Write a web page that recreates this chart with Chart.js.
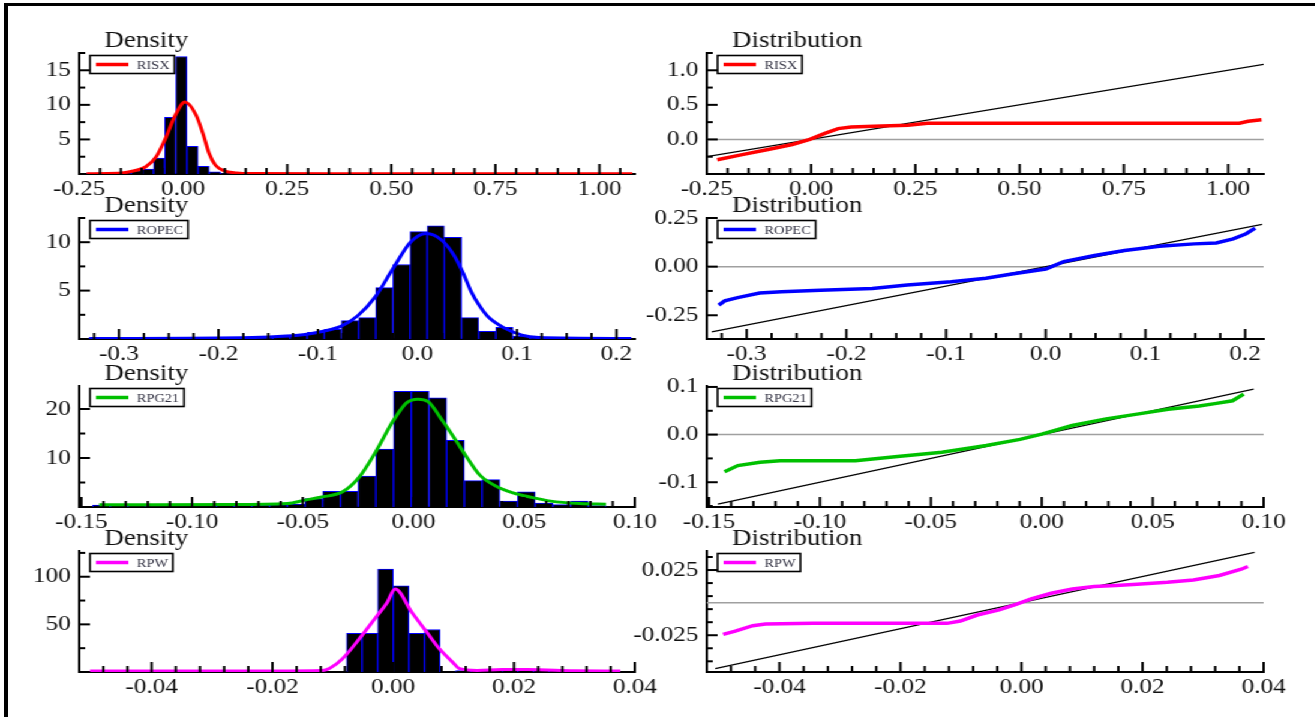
<!DOCTYPE html>
<html>
<head>
<meta charset="utf-8">
<script src="https://cdn.jsdelivr.net/npm/chart.js@4.4.1/dist/chart.umd.min.js"></script>
<style>
html, body { margin: 0; padding: 0; background: #fff; overflow: hidden; }
#page { position: relative; width: 1315px; height: 717px; overflow: hidden; background: #fff; }
#frame { position: absolute; left: 4px; top: 3px; width: 1320px; height: 720px; border-left: 4px solid #000; border-top: 3px solid #000; }
#wrap { position: absolute; left: 0; top: 0; width: 1096px; height: 717px; transform: scaleX(1.2); transform-origin: 0 0; }
canvas { position: absolute; }
</style>
</head>
<body>
<div id="page">
  <div id="frame"></div>
  <div id="wrap">
    <canvas id="risxDens"></canvas>
    <canvas id="risxDist"></canvas>
    <canvas id="ropecDens"></canvas>
    <canvas id="ropecDist"></canvas>
    <canvas id="rpgDens"></canvas>
    <canvas id="rpgDist"></canvas>
    <canvas id="rpwDens"></canvas>
    <canvas id="rpwDist"></canvas>
  </div>
</div>
<script>
// ================= DADOS: RISX =================
const risxHistStart = -0.232, risxHistWidth = 0.02676;
const risxHist = [0.15, 0.15, 0.15, 0.15, 0.5, 0.7, 2.3, 8.2, 17.0, 4.0, 1.1, 0.3,
  0.12, 0.12, 0.12, 0.12, 0.12, 0.12, 0.12, 0.12, 0.12, 0.12,
  0, 0, 0, 0, 0, 0, 0, 0, 0, 0, 0, 0, 0, 0, 0, 0, 0, 0, 0, 0, 0, 0, 0,
  0.12, 0.12, 0.12, 0];
const risxDensX = [-0.232, -0.156, -0.136, -0.115, -0.09, -0.065, -0.0445, -0.019, 0.004, 0.031, 0.047, 0.062, 0.077, 0.097, 0.128, 0.168, 0.5, 1.079];
const risxDensY = [0.05, 0.1, 0.25, 0.5, 1.05, 2.5, 4.9, 8.5, 10.4, 8.5, 5.9, 3.0, 1.3, 0.5, 0.15, 0.06, 0.05, 0.05];
const risxQQX = [-0.225, -0.165, -0.103, -0.045, -0.003, 0.033, 0.065, 0.096, 0.169, 0.232, 0.279, 1.027, 1.048, 1.080];
const risxQQY = [-0.293, -0.22, -0.146, -0.073, 0.0, 0.088, 0.156, 0.18, 0.195, 0.205, 0.234, 0.234, 0.263, 0.283];
const risxRefX = [-0.25, 1.085];
const risxRefY = [-0.25, 1.085];
const risxXRange = [-0.25, 1.085];
const risxDensYRange = [0, 17.5];
const risxDistYRange = [-0.5, 1.25];
const risxXLabels = [-0.25, 0, 0.25, 0.5, 0.75, 1.0];
const risxDensYLabels = [5, 10, 15];
const risxDistYLabels = [0, 0.5, 1.0];

// ================= DADOS: ROPEC =================
const ropecHistStart = -0.335, ropecHistWidth = 0.01724;
const ropecHist = [0, 0, 0, 0, 0, 0, 0, 0, 0, 0,
  0.2, 0.25, 0.4, 0.7, 1.0, 1.9, 2.2, 5.3, 7.7, 11.1, 11.7, 10.5, 2.2, 0.8, 1.2, 0.3, 0.1, 0, 0.15, 0.15, 0, 0];
const ropecDensX = [-0.33, -0.166, -0.132, -0.111, -0.09, -0.077, -0.06, -0.042, -0.025, -0.007, 0.009, 0.0245, 0.037, 0.0456, 0.054, 0.0626, 0.071, 0.088, 0.105, 0.122, 0.215];
const ropecDensY = [0.05, 0.15, 0.3, 0.5, 0.9, 1.3, 2.4, 4.4, 7.2, 10.0, 10.9, 10.2, 8.6, 6.9, 4.9, 3.4, 2.3, 1.1, 0.4, 0.15, 0.05];
const ropecQQX = [-0.328, -0.322, -0.309, -0.287, -0.265, -0.226, -0.174, -0.139, -0.095, -0.06, -0.034, 0.0, 0.018, 0.049, 0.079, 0.114, 0.149, 0.171, 0.188, 0.201, 0.21];
const ropecQQY = [-0.198, -0.176, -0.159, -0.136, -0.129, -0.121, -0.112, -0.095, -0.078, -0.060, -0.038, -0.012, 0.026, 0.057, 0.083, 0.105, 0.117, 0.122, 0.143, 0.169, 0.198];
const ropecRefX = [-0.335, 0.217];
const ropecRefY = [-0.335, 0.217];
const ropecXRange = [-0.34, 0.2185];
const ropecDensYRange = [0, 12.5];
const ropecDistYRange = [-0.372, 0.25];
const ropecXLabels = [-0.3, -0.2, -0.1, 0, 0.1, 0.2];
const ropecDensYLabels = [5, 10];
const ropecDistYLabels = [-0.25, 0, 0.25];

// ================= DADOS: RPG21 =================
const rpgHistStart = -0.145, rpgHistWidth = 0.008;
const rpgHist = [0.4, 0.4, 0.4, 0, 0, 0, 0,
  0.3, 0.35, 0.35, 0.5, 0.6, 1.7, 3.2, 3.2, 6.3, 11.8, 23.6, 23.6, 22.3, 13.6, 5.4, 5.6, 1.2, 3.1, 0.8, 0.5, 1.2, 0.3];
const rpgDensX = [-0.142, -0.119, -0.083, -0.057, -0.049, -0.042, -0.032, -0.0245, -0.017, -0.009, -0.003, 0.002, 0.0066, 0.013, 0.019, 0.0245, 0.030, 0.038, 0.045, 0.053, 0.062, 0.075, 0.087];
const rpgDensY = [0.48, 0.48, 0.5, 0.7, 1.4, 2.0, 3.1, 6.1, 11.3, 17.7, 21.3, 22.0, 21.5, 17.7, 13.7, 9.9, 6.5, 4.1, 2.9, 2.0, 1.2, 0.7, 0.55];
const rpgQQX = [-0.143, -0.137, -0.127, -0.118, -0.084, -0.065, -0.045, -0.025, -0.0098, 0.0, 0.0137, 0.029, 0.043, 0.057, 0.071, 0.078, 0.086, 0.091];
const rpgQQY = [-0.078, -0.065, -0.058, -0.055, -0.055, -0.046, -0.037, -0.023, -0.010, 0.001, 0.019, 0.033, 0.043, 0.053, 0.060, 0.065, 0.071, 0.085];
const rpgRefX = [-0.146, 0.0955];
const rpgRefY = [-0.146, 0.0955];
const rpgXRange = [-0.151, 0.1];
const rpgDensYRange = [0, 24.7];
const rpgDistYRange = [-0.152, 0.102];
const rpgXLabels = [-0.15, -0.1, -0.05, 0, 0.05, 0.1];
const rpgDensYLabels = [10, 20];
const rpgDistYLabels = [-0.1, 0, 0.1];

// ================= DADOS: RPW =================
const rpwHistStart = -0.0516, rpwHistWidth = 0.00258;
const rpwHist = [0, 0, 0, 0, 0, 0, 0, 0, 0, 0, 0, 0, 0, 0, 0, 0, 0,
  40.7, 40.7, 108, 90.5, 40.7, 44.6, 0, 1.5, 0, 0, 2.8, 2.8, 1.2, 1.2, 0.8, 0, 0, 0];
const rpwDensX = [-0.0502, -0.02, -0.0118, -0.0105, -0.0084, -0.0056, -0.0028, -0.001, 0.0003, 0.0031, 0.0056, 0.0077, 0.0098, 0.011, 0.0139, 0.018, 0.0223, 0.030, 0.0376];
const rpwDensY = [1, 1, 1.5, 4, 14, 35, 58, 73, 87, 62.5, 41.4, 23.9, 10.5, 3.5, 1.7, 2.5, 2.5, 1.4, 1];
const rpwQQX = [-0.0493, -0.0473, -0.0444, -0.0423, -0.0344, -0.0201, -0.0123, -0.0101, -0.0073, -0.0037, -0.0009, 0.0016, 0.0049, 0.0084, 0.012, 0.0156, 0.0191, 0.0241, 0.0284, 0.0327, 0.0363, 0.0374];
const rpwQQY = [-0.0244, -0.0218, -0.0177, -0.0164, -0.0159, -0.0159, -0.0159, -0.0141, -0.0095, -0.0056, -0.0013, 0.0028, 0.0072, 0.0105, 0.0123, 0.0131, 0.0141, 0.0156, 0.0174, 0.0208, 0.0256, 0.0277];
const rpwRefX = [-0.0506, 0.0385];
const rpwRefY = [-0.0506, 0.0385];
const rpwXRange = [-0.052, 0.04];
const rpwDensYRange = [0, 127];
const rpwDistYRange = [-0.0532, 0.0396];
const rpwXLabels = [-0.04, -0.02, 0, 0.02, 0.04];
const rpwDensYLabels = [50, 100];
const rpwDistYLabels = [-0.025, 0.025];

// ================= LAYOUT =================
const Y_W = 62, X_H = 34, PAD_T = 32, PAD_R = 32, AREA_H = 121;
const COL_LEFT = [65.83, 589.0];
const COL_W = [463, 464];
const ROW_TOP = [52.5, 218, 385.5, 551];
const FONT = '"Liberation Serif", "Times New Roman", serif';

// ================= UTILITARIOS =================
function points(xs, ys) {
    return xs.map((x, i) => ({ x: x, y: ys[i] }));
}

function histPoints(start, width, heights) {
    const pts = [];
    heights.forEach((h, i) => {
        if (h > 0) pts.push({ x: start + width * (i + 0.5), y: h });
    });
    return pts;
}

function tickValues(min, max, spec) {
    const base = spec.base || 0;
    const first = base + Math.ceil((min - base) / spec.step - 1e-9) * spec.step;
    const out = [];
    for (let i = 0; i < 500; i++) {
        const v = +(first + i * spec.step).toFixed(8);
        if (v > max + 1e-9) break;
        out.push(v);
    }
    return out;
}

function isMajor(v, spec) {
    return spec.labels.some(l => Math.abs(l - v) < 1e-7);
}

function axis(range, spec, isX) {
    return {
        type: 'linear',
        min: range[0],
        max: range[1],
        offset: false,
        grid: { display: false, drawTicks: false },
        border: { display: true, color: '#000', width: 2 },
        ticks: {
            autoSkip: false,
            maxRotation: 0,
            minRotation: 0,
            padding: isX ? 3 : 7,
            color: '#111',
            font: { family: FONT, size: 21 },
            callback: v => isMajor(v, spec) ? (+v).toFixed(spec.dec) : ''
        },
        afterBuildTicks: s => { s.ticks = tickValues(range[0], range[1], spec).map(v => ({ value: v })); },
        afterFit: s => { if (isX) s.height = X_H; else s.width = Y_W; }
    };
}

// titulo, ticks para dentro e caixa de legenda de cada painel
function panelPlugin(title, name, color, xSpec, ySpec) {
    return {
        id: 'panelDecor',
        afterDraw(chart) {
            const { ctx, chartArea: a } = chart;
            const sx = chart.scales.x, sy = chart.scales.y;
            ctx.save();

            // ticks
            ctx.strokeStyle = '#000';
            ctx.lineWidth = 2;
            tickValues(sx.min, sx.max, xSpec).forEach(v => {
                const px = sx.getPixelForValue(v);
                const len = isMajor(v, xSpec) ? 10 : 6;
                ctx.beginPath();
                ctx.moveTo(px, a.bottom);
                ctx.lineTo(px, a.bottom - len);
                ctx.stroke();
            });
            tickValues(sy.min, sy.max, ySpec).forEach(v => {
                const py = sy.getPixelForValue(v);
                const len = isMajor(v, ySpec) ? 9 : 5;
                ctx.beginPath();
                ctx.moveTo(a.left, py);
                ctx.lineTo(a.left + len, py);
                ctx.stroke();
            });

            // titulo
            ctx.fillStyle = '#111';
            ctx.font = '22.5px ' + FONT;
            ctx.textAlign = 'left';
            ctx.textBaseline = 'alphabetic';
            ctx.fillText(title, a.left + 21, a.top - 6);

            // legenda
            ctx.font = '12px ' + FONT;
            const tw = ctx.measureText(name).width;
            const bx = a.left + 9, by = a.top + 2.5, bw = 39 + tw + 4, bh = 18;
            ctx.fillStyle = '#fff';
            ctx.fillRect(bx, by, bw, bh);
            ctx.strokeStyle = '#000';
            ctx.lineWidth = 1.6;
            ctx.strokeRect(bx, by, bw, bh);
            ctx.strokeStyle = color;
            ctx.lineWidth = 3.5;
            ctx.beginPath();
            ctx.moveTo(bx + 5, by + bh / 2);
            ctx.lineTo(bx + 32, by + bh / 2);
            ctx.stroke();
            ctx.fillStyle = '#333344';
            ctx.textBaseline = 'middle';
            ctx.fillText(name, bx + 39, by + bh / 2 + 1);
            ctx.restore();
        }
    };
}

function makeChart(id, col, row, title, name, color, xRange, yRange, xSpec, ySpec, datasets) {
    const cv = document.getElementById(id);
    cv.width = Y_W + COL_W[col] + PAD_R;
    cv.height = PAD_T + AREA_H + X_H;
    cv.style.left = (COL_LEFT[col] - Y_W) + 'px';
    cv.style.top = (ROW_TOP[row] - PAD_T) + 'px';
    cv.style.width = cv.width + 'px';
    cv.style.height = cv.height + 'px';
    return new Chart(cv, {
        type: 'line',
        data: { datasets: datasets },
        options: {
            responsive: false,
            animation: false,
            devicePixelRatio: 1,
            events: [],
            layout: { padding: { left: 0, right: PAD_R, top: PAD_T, bottom: 0 } },
            plugins: { legend: { display: false }, tooltip: { enabled: false }, title: { display: false } },
            scales: {
                x: axis(xRange, xSpec, true),
                y: axis(yRange, ySpec, false)
            }
        },
        plugins: [panelPlugin(title, name, color, xSpec, ySpec)]
    });
}

function densitySets(color, hStart, hWidth, hist, dx, dy) {
    return [
        { type: 'line', data: points(dx, dy), borderColor: color, borderWidth: 3, pointRadius: 0,
          cubicInterpolationMode: 'monotone', fill: false, order: 0 },
        { type: 'bar', data: histPoints(hStart, hWidth, hist), backgroundColor: '#000', borderColor: '#0000ff',
          borderWidth: 1, barPercentage: 1, categoryPercentage: 1, order: 1 }
    ];
}

function distSets(color, qx, qy, rx, ry, xRange) {
    return [
        { type: 'line', data: points(qx, qy), borderColor: color, borderWidth: 3.5, pointRadius: 0, tension: 0, order: 0 },
        { type: 'line', data: points(rx, ry), borderColor: '#000', borderWidth: 1.2, pointRadius: 0, order: 1 },
        { type: 'line', data: points(xRange, [0, 0]), borderColor: '#a0a0a0', borderWidth: 1.5, pointRadius: 0, order: 2 }
    ];
}

// ================= GRAFICOS =================
const RED = '#ff0000', BLUE = '#0000ff', GREEN = '#00c000', MAGENTA = '#ff00ff';

makeChart('risxDens', 0, 0, 'Density', 'RISX', RED, risxXRange, risxDensYRange,
    { step: 0.05, labels: risxXLabels, dec: 2 }, { step: 2.5, labels: risxDensYLabels, dec: 0 },
    densitySets(RED, risxHistStart, risxHistWidth, risxHist, risxDensX, risxDensY));
makeChart('risxDist', 1, 0, 'Distribution', 'RISX', RED, risxXRange, risxDistYRange,
    { step: 0.05, labels: risxXLabels, dec: 2 }, { step: 0.25, labels: risxDistYLabels, dec: 1 },
    distSets(RED, risxQQX, risxQQY, risxRefX, risxRefY, risxXRange));

makeChart('ropecDens', 0, 1, 'Density', 'ROPEC', BLUE, ropecXRange, ropecDensYRange,
    { step: 0.025, labels: ropecXLabels, dec: 1 }, { step: 2.5, labels: ropecDensYLabels, dec: 0 },
    densitySets(BLUE, ropecHistStart, ropecHistWidth, ropecHist, ropecDensX, ropecDensY));
makeChart('ropecDist', 1, 1, 'Distribution', 'ROPEC', BLUE, ropecXRange, ropecDistYRange,
    { step: 0.025, labels: ropecXLabels, dec: 1 }, { step: 0.125, labels: ropecDistYLabels, dec: 2 },
    distSets(BLUE, ropecQQX, ropecQQY, ropecRefX, ropecRefY, ropecXRange));

makeChart('rpgDens', 0, 2, 'Density', 'RPG21', GREEN, rpgXRange, rpgDensYRange,
    { step: 0.01, labels: rpgXLabels, dec: 2 }, { step: 5, labels: rpgDensYLabels, dec: 0 },
    densitySets(GREEN, rpgHistStart, rpgHistWidth, rpgHist, rpgDensX, rpgDensY));
makeChart('rpgDist', 1, 2, 'Distribution', 'RPG21', GREEN, rpgXRange, rpgDistYRange,
    { step: 0.01, labels: rpgXLabels, dec: 2 }, { step: 0.05, labels: rpgDistYLabels, dec: 1 },
    distSets(GREEN, rpgQQX, rpgQQY, rpgRefX, rpgRefY, rpgXRange));

makeChart('rpwDens', 0, 3, 'Density', 'RPW', MAGENTA, rpwXRange, rpwDensYRange,
    { step: 0.004, labels: rpwXLabels, dec: 2 }, { step: 25, labels: rpwDensYLabels, dec: 0 },
    densitySets(MAGENTA, rpwHistStart, rpwHistWidth, rpwHist, rpwDensX, rpwDensY));
makeChart('rpwDist', 1, 3, 'Distribution', 'RPW', MAGENTA, rpwXRange, rpwDistYRange,
    { step: 0.004, labels: rpwXLabels, dec: 2 }, { step: 0.01, base: 0.005, labels: rpwDistYLabels, dec: 3 },
    distSets(MAGENTA, rpwQQX, rpwQQY, rpwRefX, rpwRefY, rpwXRange));
</script>
</body>
</html>
